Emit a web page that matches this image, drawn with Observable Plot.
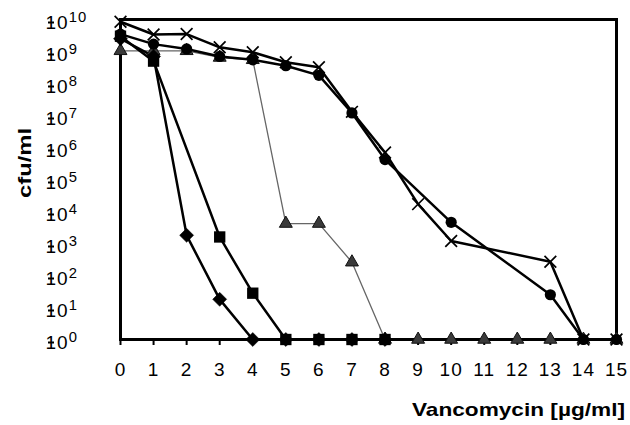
<!DOCTYPE html>
<html><head><meta charset="utf-8">
<script src="https://cdn.jsdelivr.net/npm/d3@7"></script>
<script src="https://cdn.jsdelivr.net/npm/@observablehq/plot@0.6"></script>
<style>body{margin:0;background:#fff} svg{display:block}</style>
</head><body><div id="chart"></div>
<script>
// ---- data ----
const xTicks = [0,1,2,3,4,5,6,7,8,9,10,11,12,13,14,15];
const yTicks = [1,1e1,1e2,1e3,1e4,1e5,1e6,1e7,1e8,1e9,1e10];

const diamondX = [0,1,2,3,4,5,6,7,8];
const diamondY = [2.5e9,7e8,1.8e3,18,1,1,1,1,1];

const squareX = [0,1,3,4,5,6,7,8];
const squareY = [3e9,5e8,1.6e3,28,1,1,1,1];

const triangleX = [0,1,2,3,4,5,6,7,8,9,10,11,12,13,14,15];
const triangleY = [1.05e9,1.05e9,1.05e9,6.5e8,5.5e8,4.2e3,4.2e3,260,1,1,1,1,1,1,1,1];

const circleX = [0,1,2,3,4,5,6,7,8,10,13,14,15];
const circleY = [3.5e9,1.7e9,1.2e9,7e8,5.5e8,3.6e8,1.8e8,1.2e7,4.2e5,4.6e3,25,1,1];

const crossX = [0,1,2,3,4,5,6,7,8,9,10,13,14,15];
const crossY = [8.5e9,3.4e9,3.5e9,1.35e9,9.5e8,4.6e8,3.2e8,1.3e7,7e5,1.7e4,1.2e3,270,1,1];

const rows = (xs, ys) => xs.map((x, i) => ({x, y: ys[i]}));
const diamond = rows(diamondX, diamondY);
const square = rows(squareX, squareY);
const triangle = rows(triangleX, triangleY);
const circle = rows(circleX, circleY);
const cross = rows(crossX, crossY);

const font = "'Liberation Sans', Arial, sans-serif";

const chart = Plot.plot({
  width: 630, height: 425,
  marginLeft: 120, marginRight: 14, marginTop: 19, marginBottom: 86,
  style: {fontFamily: font, fontSize: "19px", background: "#fff", color: "#000"},
  x: {domain: [0, 15]},
  y: {type: "log", domain: [1, 1e10]},
  marks: [
    Plot.axisX({ticks: xTicks, tickSize: 6, tickPadding: 17, fontSize: 19, tickFormat: d => String(d), strokeWidth: 2, label: null}),
    Plot.axisY({ticks: yTicks, tickSize: 6, tickPadding: 3, fontSize: 19, textAnchor: "start", dx: -66, dy: 3,
      tickFormat: d => "10^" + Math.round(Math.log10(d)), strokeWidth: 2, label: null}),
    Plot.line(triangle, {x: "x", y: "y", stroke: "#666", strokeWidth: 1.3}),
    Plot.line(diamond, {x: "x", y: "y", stroke: "#000", strokeWidth: 2.5}),
    Plot.line(square, {x: "x", y: "y", stroke: "#000", strokeWidth: 2.5}),
    Plot.line(circle, {x: "x", y: "y", stroke: "#000", strokeWidth: 2.5}),
    Plot.line(cross, {x: "x", y: "y", stroke: "#000", strokeWidth: 2.5}),
    Plot.frame({stroke: "#000", strokeWidth: 3}),
    Plot.dot(triangle, {x: "x", y: "y", symbol: "triangle", r: 4.8, fill: "#3a3a3a", stroke: "#111", strokeWidth: 1}),
    Plot.dot(diamond, {x: "x", y: "y", symbol: "diamond2", r: 6.3, fill: "#000", stroke: "#000", strokeWidth: 0.5}),
    Plot.dot(square, {x: "x", y: "y", symbol: "square", r: 6.4, fill: "#000"}),
    Plot.dot(circle, {x: "x", y: "y", symbol: "circle", r: 5.6, fill: "#000"}),
    Plot.dot(cross, {x: "x", y: "y", symbol: "times", r: 5.4, stroke: "#000", strokeWidth: 1.7})
  ]
});

const svg = d3.select(chart);
// superscript exponents on y tick labels
svg.selectAll('g[aria-label="y-axis tick label"] text').each(function() {
  const t = d3.select(this);
  const s = t.text();
  const [base, exp] = s.split("^");
  t.text("");
  t.append("tspan").text(base);
  t.append("tspan").attr("dy", "-0.42em").attr("font-size", "0.78em").text(exp);
  t.style("letter-spacing", "1px");
});
svg.selectAll('g[aria-label="x-axis tick label"] text').style("letter-spacing", "1px");

svg.append("text")
  .attr("transform", "translate(31,163) rotate(-90)")
  .attr("text-anchor", "middle")
  .attr("font-family", font).attr("font-weight", "bold").attr("font-size", 19)
  .attr("textLength", 70).attr("lengthAdjust", "spacingAndGlyphs")
  .text("cfu/ml");
svg.append("text")
  .attr("x", 625).attr("y", 416)
  .attr("text-anchor", "end")
  .attr("font-family", font).attr("font-weight", "bold").attr("font-size", 19)
  .attr("textLength", 213).attr("lengthAdjust", "spacingAndGlyphs")
  .text("Vancomycin [µg/ml]");

document.getElementById("chart").appendChild(chart);
</script>
</body></html>
